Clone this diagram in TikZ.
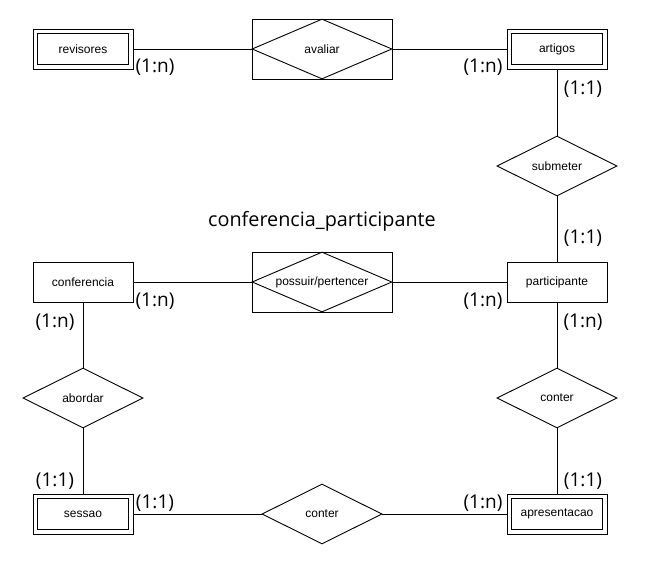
\documentclass[tikz,border=0pt]{standalone}
\usepackage{fontspec}
\setmainfont{Liberation Sans}
\newfontfamily\lblfont{Open Sans}
\usetikzlibrary{shapes.geometric}
\begin{document}
\begin{tikzpicture}[x=1pt,y=-1pt,line width=0.9pt,
  entity/.style={draw,rectangle,minimum width=100pt,minimum height=40pt,inner sep=0pt,font=\fontsize{12}{14}\selectfont},
  rel/.style={draw,diamond,aspect=2,minimum width=120pt,minimum height=60pt,inner sep=0pt,font=\fontsize{12}{14}\selectfont},
  assocbox/.style={draw,rectangle,minimum width=140pt,minimum height=60pt,inner sep=0pt},
  assocrel/.style={draw,diamond,aspect=2.33,minimum width=140pt,minimum height=60pt,inner sep=0pt,font=\fontsize{12}{14}\selectfont},
  card/.style={inner sep=0pt,font=\lblfont\fontsize{19}{21}\selectfont},
  title/.style={inner sep=0pt,font=\lblfont\fontsize{19.8}{22}\selectfont},
  link/.style={draw}]
\useasboundingbox (0,0) rectangle (647,575);
% entities
\node[entity] (rev) at (83,49) {revisores};
\node[entity] (art) at (557,49) {artigos};
\node[entity] (conf) at (83,282) {conferencia};
\node[entity] (part) at (557,282) {participante};
\node[entity] (ses) at (83,514) {sessao};
\node[entity] (apr) at (557,514) {apresentacao};
% inner borders of weak entities
\foreach \n in {rev,art,ses,apr}{
  \draw ([shift={(5pt,-5pt)}]\n.north west) rectangle ([shift={(-5pt,5pt)}]\n.south east);
}
% associative entities
\node[assocbox] (avbox) at (322,49) {};
\node[assocrel] (av) at (322,49) {avaliar};
\node[assocbox] (ppbox) at (322,282) {};
\node[assocrel] (pp) at (322,282) {possuir/pertencer};
% relationships
\node[rel] (sub) at (557,166) {submeter};
\node[rel] (abo) at (83,398) {abordar};
\node[rel] (con1) at (557,398) {conter};
\node[rel] (con2) at (322,514) {conter};
% title
\node[title] (ttl) at (322,221) {conferencia\_participante};
% connectors
\draw[link] (rev.east) -- (avbox.west);
\draw[link] (avbox.east) -- (art.west);
\draw[link] (art.south) -- (sub.north);
\draw[link] (sub.south) -- (part.north);
\draw[link] (conf.east) -- (ppbox.west);
\draw[link] (ppbox.east) -- (part.west);
\draw[link] (conf.south) -- (abo.north);
\draw[link] (abo.south) -- (ses.north);
\draw[link] (part.south) -- (con1.north);
\draw[link] (con1.south) -- (apr.north);
\draw[link] (ses.east) -- (con2.west);
\draw[link] (con2.east) -- (apr.west);
% cardinalities
\node[card] (c1) at (155,67) {(1:n)};
\node[card] (c2) at (483,67) {(1:n)};
\node[card] (c3) at (583,89) {(1:1)};
\node[card] (c4) at (583,238) {(1:1)};
\node[card] (c5) at (155,301) {(1:n)};
\node[card] (c6) at (483,301) {(1:n)};
\node[card] (c7) at (55,322) {(1:n)};
\node[card] (c8) at (583,322) {(1:n)};
\node[card] (c9) at (55,481) {(1:1)};
\node[card] (c10) at (583,481) {(1:1)};
\node[card] (c11) at (155,503) {(1:1)};
\node[card] (c12) at (483,503) {(1:n)};
\end{tikzpicture}
\end{document}
